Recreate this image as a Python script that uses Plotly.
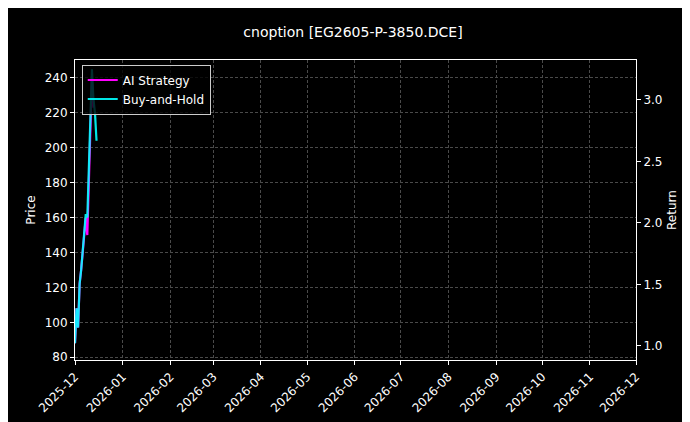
import plotly.graph_objects as go

dates = ["2025-12-01", "2025-12-02", "2025-12-03", "2025-12-04", "2025-12-05",
         "2025-12-06", "2025-12-07", "2025-12-08", "2025-12-09", "2025-12-10",
         "2025-12-11", "2025-12-12", "2025-12-13", "2025-12-14", "2025-12-15"]
bh_price = [88, 108, 97, 122, 130, 140, 150, 162, 160, 185, 220, 245, 228, 220, 204]
ai_price = [88, 108, 97, 122, 130, 140, 150, 160, 150, 183, 218, 240, 223]

fig = go.Figure()
fig.add_trace(go.Scatter(x=dates[:len(ai_price)], y=ai_price, name="AI Strategy",
                         mode="lines", line=dict(color="#ff00ff", width=2.2)))
fig.add_trace(go.Scatter(x=dates, y=bh_price, name="Buy-and-Hold",
                         mode="lines", line=dict(color="#00ffff", width=2.2), opacity=0.9))
# invisible trace to enable right axis
fig.add_trace(go.Scatter(x=[dates[0]], y=[1.0], yaxis="y2", mode="lines",
                         showlegend=False, hoverinfo="skip", line=dict(width=0)))

grid = dict(showgrid=True, gridcolor="#4a4a4a", griddash="3px,2px", gridwidth=0.6)
fig.update_layout(
    width=690, height=422,
    paper_bgcolor="black", plot_bgcolor="black",
    font=dict(family="DejaVu Sans", size=12, color="white"),
    title=dict(text="cnoption [EG2605-P-3850.DCE]", x=0.5, y=0.955, xanchor="center",
               font=dict(size=14)),
    margin=dict(l=67, r=62, t=52, b=70),
    xaxis=dict(range=["2025-12-01", "2026-12-01"], dtick="M1", tickformat="%Y-%m",
               tickangle=-45, ticks="outside", ticklen=4, tickcolor="white",
               showline=True, linecolor="white", mirror=True, automargin=False, **grid),
    yaxis=dict(title=dict(text="Price", standoff=6, font=dict(size=12)),
               range=[78.4, 250.3], dtick=20, automargin=False,
               ticks="outside", ticklen=4, tickcolor="white",
               showline=True, linecolor="white", zeroline=False, **grid),
    yaxis2=dict(title=dict(text="Return", standoff=6, font=dict(size=12)),
                overlaying="y", side="right", automargin=False,
                range=[0.886, 3.325], dtick=0.5, tickformat=".1f",
                ticks="outside", ticklen=4, tickcolor="white",
                showline=True, linecolor="white", showgrid=False, zeroline=False),
    legend=dict(x=0.012, y=0.985, xanchor="left", yanchor="top",
                bgcolor="rgba(0,0,0,0.8)", bordercolor="#ccc", borderwidth=1,
                font=dict(size=12)),
)
fig.write_html("out.html")
